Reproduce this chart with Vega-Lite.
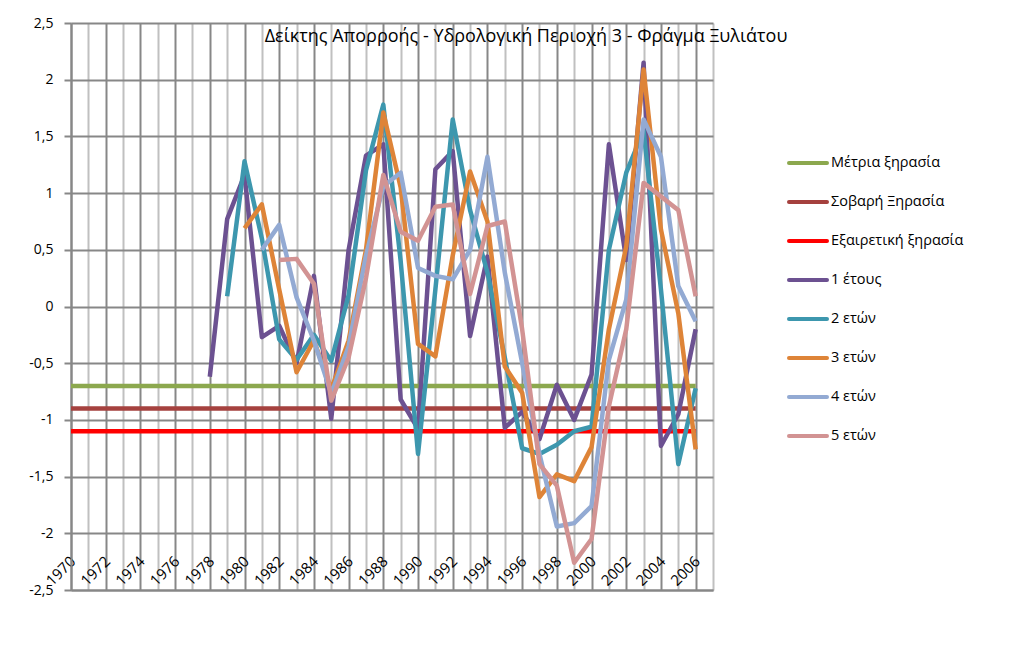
{
  "$schema": "https://vega.github.io/schema/vega-lite/v6.json",
  "autosize": {"type": "none"},
  "width": 642,
  "height": 567,
  "padding": {"left": 71, "top": 23, "right": 320, "bottom": 71},
  "background": "white",
  "config": {"view": {"stroke": null}, "font": "Open Sans"},
  "title": {"text": "Δείκτης Απορροής - Υδρολογική Περιοχή 3 - Φράγμα Ξυλιάτου", "font": "Open Sans", "fontSize": 18, "fontWeight": "normal", "color": "black", "anchor": "middle", "frame": "group", "offset": -20, "baseline": "alphabetic", "dx": 134, "dy": 24},
  "data": {"values": [
    {"series": "Μέτρια ξηρασία", "year": 1970, "value": -0.7}, {"series": "Μέτρια ξηρασία", "year": 1971, "value": -0.7}, {"series": "Μέτρια ξηρασία", "year": 1972, "value": -0.7}, {"series": "Μέτρια ξηρασία", "year": 1973, "value": -0.7}, {"series": "Μέτρια ξηρασία", "year": 1974, "value": -0.7}, {"series": "Μέτρια ξηρασία", "year": 1975, "value": -0.7}, {"series": "Μέτρια ξηρασία", "year": 1976, "value": -0.7}, {"series": "Μέτρια ξηρασία", "year": 1977, "value": -0.7}, {"series": "Μέτρια ξηρασία", "year": 1978, "value": -0.7}, {"series": "Μέτρια ξηρασία", "year": 1979, "value": -0.7}, {"series": "Μέτρια ξηρασία", "year": 1980, "value": -0.7}, {"series": "Μέτρια ξηρασία", "year": 1981, "value": -0.7}, {"series": "Μέτρια ξηρασία", "year": 1982, "value": -0.7}, {"series": "Μέτρια ξηρασία", "year": 1983, "value": -0.7}, {"series": "Μέτρια ξηρασία", "year": 1984, "value": -0.7}, {"series": "Μέτρια ξηρασία", "year": 1985, "value": -0.7}, {"series": "Μέτρια ξηρασία", "year": 1986, "value": -0.7}, {"series": "Μέτρια ξηρασία", "year": 1987, "value": -0.7}, {"series": "Μέτρια ξηρασία", "year": 1988, "value": -0.7}, {"series": "Μέτρια ξηρασία", "year": 1989, "value": -0.7}, {"series": "Μέτρια ξηρασία", "year": 1990, "value": -0.7}, {"series": "Μέτρια ξηρασία", "year": 1991, "value": -0.7}, {"series": "Μέτρια ξηρασία", "year": 1992, "value": -0.7}, {"series": "Μέτρια ξηρασία", "year": 1993, "value": -0.7}, {"series": "Μέτρια ξηρασία", "year": 1994, "value": -0.7}, {"series": "Μέτρια ξηρασία", "year": 1995, "value": -0.7}, {"series": "Μέτρια ξηρασία", "year": 1996, "value": -0.7}, {"series": "Μέτρια ξηρασία", "year": 1997, "value": -0.7}, {"series": "Μέτρια ξηρασία", "year": 1998, "value": -0.7}, {"series": "Μέτρια ξηρασία", "year": 1999, "value": -0.7}, {"series": "Μέτρια ξηρασία", "year": 2000, "value": -0.7}, {"series": "Μέτρια ξηρασία", "year": 2001, "value": -0.7}, {"series": "Μέτρια ξηρασία", "year": 2002, "value": -0.7}, {"series": "Μέτρια ξηρασία", "year": 2003, "value": -0.7}, {"series": "Μέτρια ξηρασία", "year": 2004, "value": -0.7}, {"series": "Μέτρια ξηρασία", "year": 2005, "value": -0.7}, {"series": "Μέτρια ξηρασία", "year": 2006, "value": -0.7},
    {"series": "Σοβαρή Ξηρασία", "year": 1970, "value": -0.9}, {"series": "Σοβαρή Ξηρασία", "year": 1971, "value": -0.9}, {"series": "Σοβαρή Ξηρασία", "year": 1972, "value": -0.9}, {"series": "Σοβαρή Ξηρασία", "year": 1973, "value": -0.9}, {"series": "Σοβαρή Ξηρασία", "year": 1974, "value": -0.9}, {"series": "Σοβαρή Ξηρασία", "year": 1975, "value": -0.9}, {"series": "Σοβαρή Ξηρασία", "year": 1976, "value": -0.9}, {"series": "Σοβαρή Ξηρασία", "year": 1977, "value": -0.9}, {"series": "Σοβαρή Ξηρασία", "year": 1978, "value": -0.9}, {"series": "Σοβαρή Ξηρασία", "year": 1979, "value": -0.9}, {"series": "Σοβαρή Ξηρασία", "year": 1980, "value": -0.9}, {"series": "Σοβαρή Ξηρασία", "year": 1981, "value": -0.9}, {"series": "Σοβαρή Ξηρασία", "year": 1982, "value": -0.9}, {"series": "Σοβαρή Ξηρασία", "year": 1983, "value": -0.9}, {"series": "Σοβαρή Ξηρασία", "year": 1984, "value": -0.9}, {"series": "Σοβαρή Ξηρασία", "year": 1985, "value": -0.9}, {"series": "Σοβαρή Ξηρασία", "year": 1986, "value": -0.9}, {"series": "Σοβαρή Ξηρασία", "year": 1987, "value": -0.9}, {"series": "Σοβαρή Ξηρασία", "year": 1988, "value": -0.9}, {"series": "Σοβαρή Ξηρασία", "year": 1989, "value": -0.9}, {"series": "Σοβαρή Ξηρασία", "year": 1990, "value": -0.9}, {"series": "Σοβαρή Ξηρασία", "year": 1991, "value": -0.9}, {"series": "Σοβαρή Ξηρασία", "year": 1992, "value": -0.9}, {"series": "Σοβαρή Ξηρασία", "year": 1993, "value": -0.9}, {"series": "Σοβαρή Ξηρασία", "year": 1994, "value": -0.9}, {"series": "Σοβαρή Ξηρασία", "year": 1995, "value": -0.9}, {"series": "Σοβαρή Ξηρασία", "year": 1996, "value": -0.9}, {"series": "Σοβαρή Ξηρασία", "year": 1997, "value": -0.9}, {"series": "Σοβαρή Ξηρασία", "year": 1998, "value": -0.9}, {"series": "Σοβαρή Ξηρασία", "year": 1999, "value": -0.9}, {"series": "Σοβαρή Ξηρασία", "year": 2000, "value": -0.9}, {"series": "Σοβαρή Ξηρασία", "year": 2001, "value": -0.9}, {"series": "Σοβαρή Ξηρασία", "year": 2002, "value": -0.9}, {"series": "Σοβαρή Ξηρασία", "year": 2003, "value": -0.9}, {"series": "Σοβαρή Ξηρασία", "year": 2004, "value": -0.9}, {"series": "Σοβαρή Ξηρασία", "year": 2005, "value": -0.9}, {"series": "Σοβαρή Ξηρασία", "year": 2006, "value": -0.9},
    {"series": "Εξαιρετική ξηρασία", "year": 1970, "value": -1.1}, {"series": "Εξαιρετική ξηρασία", "year": 1971, "value": -1.1}, {"series": "Εξαιρετική ξηρασία", "year": 1972, "value": -1.1}, {"series": "Εξαιρετική ξηρασία", "year": 1973, "value": -1.1}, {"series": "Εξαιρετική ξηρασία", "year": 1974, "value": -1.1}, {"series": "Εξαιρετική ξηρασία", "year": 1975, "value": -1.1}, {"series": "Εξαιρετική ξηρασία", "year": 1976, "value": -1.1}, {"series": "Εξαιρετική ξηρασία", "year": 1977, "value": -1.1}, {"series": "Εξαιρετική ξηρασία", "year": 1978, "value": -1.1}, {"series": "Εξαιρετική ξηρασία", "year": 1979, "value": -1.1}, {"series": "Εξαιρετική ξηρασία", "year": 1980, "value": -1.1}, {"series": "Εξαιρετική ξηρασία", "year": 1981, "value": -1.1}, {"series": "Εξαιρετική ξηρασία", "year": 1982, "value": -1.1}, {"series": "Εξαιρετική ξηρασία", "year": 1983, "value": -1.1}, {"series": "Εξαιρετική ξηρασία", "year": 1984, "value": -1.1}, {"series": "Εξαιρετική ξηρασία", "year": 1985, "value": -1.1}, {"series": "Εξαιρετική ξηρασία", "year": 1986, "value": -1.1}, {"series": "Εξαιρετική ξηρασία", "year": 1987, "value": -1.1}, {"series": "Εξαιρετική ξηρασία", "year": 1988, "value": -1.1}, {"series": "Εξαιρετική ξηρασία", "year": 1989, "value": -1.1}, {"series": "Εξαιρετική ξηρασία", "year": 1990, "value": -1.1}, {"series": "Εξαιρετική ξηρασία", "year": 1991, "value": -1.1}, {"series": "Εξαιρετική ξηρασία", "year": 1992, "value": -1.1}, {"series": "Εξαιρετική ξηρασία", "year": 1993, "value": -1.1}, {"series": "Εξαιρετική ξηρασία", "year": 1994, "value": -1.1}, {"series": "Εξαιρετική ξηρασία", "year": 1995, "value": -1.1}, {"series": "Εξαιρετική ξηρασία", "year": 1996, "value": -1.1}, {"series": "Εξαιρετική ξηρασία", "year": 1997, "value": -1.1}, {"series": "Εξαιρετική ξηρασία", "year": 1998, "value": -1.1}, {"series": "Εξαιρετική ξηρασία", "year": 1999, "value": -1.1}, {"series": "Εξαιρετική ξηρασία", "year": 2000, "value": -1.1}, {"series": "Εξαιρετική ξηρασία", "year": 2001, "value": -1.1}, {"series": "Εξαιρετική ξηρασία", "year": 2002, "value": -1.1}, {"series": "Εξαιρετική ξηρασία", "year": 2003, "value": -1.1}, {"series": "Εξαιρετική ξηρασία", "year": 2004, "value": -1.1}, {"series": "Εξαιρετική ξηρασία", "year": 2005, "value": -1.1}, {"series": "Εξαιρετική ξηρασία", "year": 2006, "value": -1.1},
    {"series": "1 έτους", "year": 1978, "value": -0.62}, {"series": "1 έτους", "year": 1979, "value": 0.77}, {"series": "1 έτους", "year": 1980, "value": 1.16}, {"series": "1 έτους", "year": 1981, "value": -0.27}, {"series": "1 έτους", "year": 1982, "value": -0.17}, {"series": "1 έτους", "year": 1983, "value": -0.5}, {"series": "1 έτους", "year": 1984, "value": 0.27}, {"series": "1 έτους", "year": 1985, "value": -0.99}, {"series": "1 έτους", "year": 1986, "value": 0.5}, {"series": "1 έτους", "year": 1987, "value": 1.33}, {"series": "1 έτους", "year": 1988, "value": 1.43}, {"series": "1 έτους", "year": 1989, "value": -0.82}, {"series": "1 έτους", "year": 1990, "value": -1.08}, {"series": "1 έτους", "year": 1991, "value": 1.21}, {"series": "1 έτους", "year": 1992, "value": 1.37}, {"series": "1 έτους", "year": 1993, "value": -0.26}, {"series": "1 έτους", "year": 1994, "value": 0.44}, {"series": "1 έτους", "year": 1995, "value": -1.07}, {"series": "1 έτους", "year": 1996, "value": -0.93}, {"series": "1 έτους", "year": 1997, "value": -1.17}, {"series": "1 έτους", "year": 1998, "value": -0.69}, {"series": "1 έτους", "year": 1999, "value": -1.0}, {"series": "1 έτους", "year": 2000, "value": -0.6}, {"series": "1 έτους", "year": 2001, "value": 1.43}, {"series": "1 έτους", "year": 2002, "value": 0.41}, {"series": "1 έτους", "year": 2003, "value": 2.15}, {"series": "1 έτους", "year": 2004, "value": -1.23}, {"series": "1 έτους", "year": 2005, "value": -0.95}, {"series": "1 έτους", "year": 2006, "value": -0.2},
    {"series": "2 ετών", "year": 1979, "value": 0.09}, {"series": "2 ετών", "year": 1980, "value": 1.28}, {"series": "2 ετών", "year": 1981, "value": 0.6}, {"series": "2 ετών", "year": 1982, "value": -0.29}, {"series": "2 ετών", "year": 1983, "value": -0.47}, {"series": "2 ετών", "year": 1984, "value": -0.25}, {"series": "2 ετών", "year": 1985, "value": -0.48}, {"series": "2 ετών", "year": 1986, "value": 0.1}, {"series": "2 ετών", "year": 1987, "value": 1.2}, {"series": "2 ετών", "year": 1988, "value": 1.78}, {"series": "2 ετών", "year": 1989, "value": 0.4}, {"series": "2 ετών", "year": 1990, "value": -1.3}, {"series": "2 ετών", "year": 1991, "value": 0.15}, {"series": "2 ετών", "year": 1992, "value": 1.65}, {"series": "2 ετών", "year": 1993, "value": 0.85}, {"series": "2 ετών", "year": 1994, "value": 0.3}, {"series": "2 ετών", "year": 1995, "value": -0.45}, {"series": "2 ετών", "year": 1996, "value": -1.25}, {"series": "2 ετών", "year": 1997, "value": -1.3}, {"series": "2 ετών", "year": 1998, "value": -1.22}, {"series": "2 ετών", "year": 1999, "value": -1.1}, {"series": "2 ετών", "year": 2000, "value": -1.06}, {"series": "2 ετών", "year": 2001, "value": 0.5}, {"series": "2 ετών", "year": 2002, "value": 1.18}, {"series": "2 ετών", "year": 2003, "value": 1.55}, {"series": "2 ετών", "year": 2004, "value": 0.15}, {"series": "2 ετών", "year": 2005, "value": -1.39}, {"series": "2 ετών", "year": 2006, "value": -0.72},
    {"series": "3 ετών", "year": 1980, "value": 0.69}, {"series": "3 ετών", "year": 1981, "value": 0.9}, {"series": "3 ετών", "year": 1982, "value": 0.15}, {"series": "3 ετών", "year": 1983, "value": -0.58}, {"series": "3 ετών", "year": 1984, "value": -0.3}, {"series": "3 ετών", "year": 1985, "value": -0.73}, {"series": "3 ετών", "year": 1986, "value": -0.3}, {"series": "3 ετών", "year": 1987, "value": 0.5}, {"series": "3 ετών", "year": 1988, "value": 1.71}, {"series": "3 ετών", "year": 1989, "value": 1.05}, {"series": "3 ετών", "year": 1990, "value": -0.33}, {"series": "3 ετών", "year": 1991, "value": -0.44}, {"series": "3 ετών", "year": 1992, "value": 0.45}, {"series": "3 ετών", "year": 1993, "value": 1.19}, {"series": "3 ετών", "year": 1994, "value": 0.75}, {"series": "3 ετών", "year": 1995, "value": -0.53}, {"series": "3 ετών", "year": 1996, "value": -0.76}, {"series": "3 ετών", "year": 1997, "value": -1.68}, {"series": "3 ετών", "year": 1998, "value": -1.48}, {"series": "3 ετών", "year": 1999, "value": -1.54}, {"series": "3 ετών", "year": 2000, "value": -1.24}, {"series": "3 ετών", "year": 2001, "value": -0.2}, {"series": "3 ετών", "year": 2002, "value": 0.53}, {"series": "3 ετών", "year": 2003, "value": 2.09}, {"series": "3 ετών", "year": 2004, "value": 0.68}, {"series": "3 ετών", "year": 2005, "value": -0.06}, {"series": "3 ετών", "year": 2006, "value": -1.26},
    {"series": "4 ετών", "year": 1981, "value": 0.5}, {"series": "4 ετών", "year": 1982, "value": 0.72}, {"series": "4 ετών", "year": 1983, "value": 0.08}, {"series": "4 ετών", "year": 1984, "value": -0.3}, {"series": "4 ετών", "year": 1985, "value": -0.77}, {"series": "4 ετών", "year": 1986, "value": -0.35}, {"series": "4 ετών", "year": 1987, "value": 0.45}, {"series": "4 ετών", "year": 1988, "value": 1.06}, {"series": "4 ετών", "year": 1989, "value": 1.18}, {"series": "4 ετών", "year": 1990, "value": 0.34}, {"series": "4 ετών", "year": 1991, "value": 0.27}, {"series": "4 ετών", "year": 1992, "value": 0.24}, {"series": "4 ετών", "year": 1993, "value": 0.5}, {"series": "4 ετών", "year": 1994, "value": 1.32}, {"series": "4 ετών", "year": 1995, "value": 0.3}, {"series": "4 ετών", "year": 1996, "value": -0.5}, {"series": "4 ετών", "year": 1997, "value": -1.3}, {"series": "4 ετών", "year": 1998, "value": -1.94}, {"series": "4 ετών", "year": 1999, "value": -1.91}, {"series": "4 ετών", "year": 2000, "value": -1.76}, {"series": "4 ετών", "year": 2001, "value": -0.47}, {"series": "4 ετών", "year": 2002, "value": 0.06}, {"series": "4 ετών", "year": 2003, "value": 1.65}, {"series": "4 ετών", "year": 2004, "value": 1.32}, {"series": "4 ετών", "year": 2005, "value": 0.18}, {"series": "4 ετών", "year": 2006, "value": -0.13},
    {"series": "5 ετών", "year": 1982, "value": 0.41}, {"series": "5 ετών", "year": 1983, "value": 0.42}, {"series": "5 ετών", "year": 1984, "value": 0.2}, {"series": "5 ετών", "year": 1985, "value": -0.83}, {"series": "5 ετών", "year": 1986, "value": -0.45}, {"series": "5 ετών", "year": 1987, "value": 0.25}, {"series": "5 ετών", "year": 1988, "value": 1.16}, {"series": "5 ετών", "year": 1989, "value": 0.66}, {"series": "5 ετών", "year": 1990, "value": 0.58}, {"series": "5 ετών", "year": 1991, "value": 0.88}, {"series": "5 ετών", "year": 1992, "value": 0.9}, {"series": "5 ετών", "year": 1993, "value": 0.11}, {"series": "5 ετών", "year": 1994, "value": 0.71}, {"series": "5 ετών", "year": 1995, "value": 0.75}, {"series": "5 ετών", "year": 1996, "value": -0.2}, {"series": "5 ετών", "year": 1997, "value": -1.39}, {"series": "5 ετών", "year": 1998, "value": -1.58}, {"series": "5 ετών", "year": 1999, "value": -2.26}, {"series": "5 ετών", "year": 2000, "value": -2.05}, {"series": "5 ετών", "year": 2001, "value": -0.88}, {"series": "5 ετών", "year": 2002, "value": -0.2}, {"series": "5 ετών", "year": 2003, "value": 1.09}, {"series": "5 ετών", "year": 2004, "value": 0.97}, {"series": "5 ετών", "year": 2005, "value": 0.85}, {"series": "5 ετών", "year": 2006, "value": 0.09}
  ]},
  "mark": {"type": "line", "strokeWidth": 4.5, "strokeJoin": "round", "strokeCap": "butt"},
  "encoding": {
    "x": {"field": "year", "type": "quantitative",
      "scale": {"domain": [1970, 2007], "nice": false, "zero": false},
      "axis": {"title": null, "values": [1970,1971,1972,1973,1974,1975,1976,1977,1978,1979,1980,1981,1982,1983,1984,1985,1986,1987,1988,1989,1990,1991,1992,1993,1994,1995,1996,1997,1998,1999,2000,2001,2002,2003,2004,2005,2006,2007],
        "labelExpr": "datum.value % 2 === 0 ? toString(datum.value) : ''",
        "labelAngle": -45, "labelAlign": "right", "labelBaseline": "alphabetic",
        "labelPadding": -28, "labelOffset": 5, "ticks": false, "tickSize": 0,
        "labelOverlap": false, "labelBound": false, "labelFlush": false,
        "labelFont": "Open Sans", "labelFontSize": 15, "labelColor": "black",
        "grid": true, "gridWidth": 2,
        "gridColor": {"condition": {"test": "datum.value % 2 === 0", "value": "#878787"}, "value": "#C0C0C0"},
        "domainColor": "#878787", "domainWidth": 2}},
    "y": {"field": "value", "type": "quantitative",
      "scale": {"domain": [-2.5, 2.5], "nice": false},
      "axis": {"title": null, "values": [-2.5,-2,-1.5,-1,-0.5,0,0.5,1,1.5,2,2.5],
        "labelExpr": "replace(toString(datum.value), '.', ',')",
        "tickSize": 7, "tickColor": "#878787", "tickWidth": 2, "labelPadding": 11,
        "labelFont": "Open Sans", "labelFontSize": 14, "labelColor": "black",
        "grid": true, "gridColor": "#878787", "gridWidth": 2,
        "domainColor": "#878787", "domainWidth": 2}},
    "color": {"field": "series", "type": "nominal",
      "scale": {"domain": ["Μέτρια ξηρασία", "Σοβαρή Ξηρασία", "Εξαιρετική ξηρασία", "1 έτους", "2 ετών", "3 ετών", "4 ετών", "5 ετών"],
        "range": ["#8CA84E", "#A5413E", "#FF0000", "#6C5191", "#3D97AE", "#DE8438", "#93AAD3", "#D29393"]},
      "legend": {"title": null, "orient": "none", "legendX": 716, "legendY": 119, "padding": 0,
        "symbolType": "stroke", "symbolSize": 1444, "symbolStrokeWidth": 4,
        "labelFont": "Open Sans", "labelFontSize": 14.5, "labelColor": "black", "labelOffset": 2,
        "rowPadding": 10, "labelLimit": 300,
        "encode": {"symbols": {"update": {"strokeCap": {"value": "round"}}}}}}
  }
}
